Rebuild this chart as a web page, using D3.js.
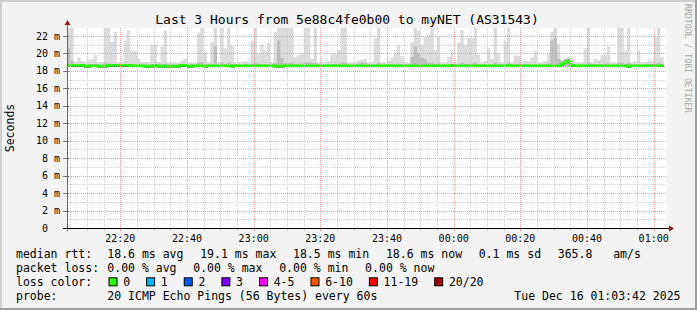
<!DOCTYPE html>
<html>
<head>
<meta charset="utf-8">
<script src="https://cdn.jsdelivr.net/npm/d3@7"></script>
<style>
  html, body { margin: 0; padding: 0; background: #f3f3f3; }
  svg { display: block; }
  text { font-family: "DejaVu Sans Mono", monospace; white-space: pre; }
</style>
</head>
<body>
<script>
const title = 'Last 3 Hours from 5e88c4fe0b00 to myNET (AS31543)'
const startTime = new Date(2025, 11, 15, 22, 4, 0)
const endTime = new Date(2025, 11, 16, 1, 4, 0)
const yMax = 22.92

// one value per 60s step, in ms
const smokeHi = [
  24, 24, 19.05, 19.55, 19.1, 18.95, 19.3, 19.4, 19.85, 18.95,
  18.9, 24, 24, 21.35, 22.5, 18.95, 18.9, 21.5, 22.7, 20.3,
  20.3, 19.4, 18.95, 19.0, 18.9, 21.0, 21.0, 19.0, 20.8, 22.6,
  18.95, 18.9, 18.95, 19.0, 19.2, 19.4, 19.0, 18.9, 18.95, 22.4,
  24, 20.1, 19.0, 21.35, 24, 19.0, 24, 20.6, 24, 20.9,
  18.95, 19.0, 19.0, 19.1, 18.95, 21.5, 24, 20.0, 21.0, 20.3,
  21.2, 18.95, 22.5, 24, 24, 24, 24, 24, 19.6, 19.85,
  19.9, 24, 24, 19.4, 24, 18.9, 18.9, 18.95, 19.1, 20.0,
  20.0, 20.4, 24, 24, 18.9, 18.95, 19.05, 19.2, 19.3, 19.4,
  18.9, 18.95, 21.75, 24, 18.95, 18.9, 19.1, 19.5, 20.1, 21.0,
  19.7, 18.95, 18.9, 21.3, 24, 22.6, 21.0, 21.9, 22.2, 24,
  20.4, 21.9, 18.95, 18.9, 19.6, 20.2, 18.95, 21.3, 22.7, 21.0,
  21.75, 21.75, 24, 19.85, 18.95, 19.15, 20.6, 19.4, 24, 20.0,
  18.95, 21.4, 24, 18.95, 19.8, 19.75, 18.95, 19.1, 19.1, 19.55,
  20.3, 18.95, 18.9, 19.15, 20.0, 22.5, 24, 21.1, 19.0, 19.2,
  19.55, 18.95, 18.9, 18.95, 18.9, 20.6, 24, 19.0, 19.4, 19.25,
  19.85, 19.85, 20.8, 18.95, 18.9, 24, 24, 20.3, 24, 18.95,
  19.15, 20.4, 18.95, 18.9, 19.1, 19.15, 21.85, 24, 19.6
]
const smokeMid = [
  20.6, 19.2, 18.8, 18.8, 18.8, 18.75, 18.8, 18.8, 18.8, 18.75,
  18.75, 18.9, 18.85, 18.8, 18.8, 18.75, 18.75, 18.8, 18.8, 18.8,
  18.8, 18.8, 18.75, 18.75, 18.75, 18.8, 18.8, 18.75, 18.8, 18.8,
  18.75, 18.75, 18.75, 18.75, 18.8, 18.8, 18.75, 18.75, 18.75, 18.9,
  19.0, 18.8, 18.75, 18.8, 20.8, 18.75, 18.9, 18.8, 18.9, 18.8,
  18.75, 18.75, 18.75, 18.8, 18.75, 18.8, 18.9, 18.8, 18.8, 18.8,
  18.8, 18.75, 18.9, 21.5, 19.5, 18.9, 18.9, 18.9, 18.8, 18.85,
  18.85, 19.0, 19.0, 18.9, 18.9, 18.75, 18.75, 18.75, 18.8, 18.8,
  18.8, 18.8, 18.9, 18.9, 18.75, 18.75, 18.8, 18.85, 19.0, 18.9,
  18.75, 18.75, 18.8, 18.9, 18.75, 18.75, 18.8, 18.8, 18.8, 18.85,
  18.8, 18.75, 18.75, 19.6, 20.8, 20.0, 19.5, 19.3, 18.9, 18.9,
  18.8, 18.85, 18.75, 18.75, 18.8, 18.8, 18.75, 18.8, 18.9, 18.8,
  18.8, 18.8, 18.9, 18.8, 18.75, 18.8, 18.8, 18.8, 18.9, 18.8,
  18.75, 18.8, 18.9, 18.75, 18.8, 18.8, 18.75, 18.8, 18.8, 18.8,
  18.8, 18.75, 18.75, 18.8, 18.85, 21.5, 21.8, 19.4, 19.2, 19.4,
  19.5, 18.8, 18.75, 18.75, 18.75, 18.8, 18.9, 18.8, 18.8, 18.8,
  18.8, 18.8, 18.85, 18.75, 18.75, 18.9, 18.9, 18.8, 18.9, 18.75,
  18.8, 18.8, 18.75, 18.75, 18.8, 18.8, 18.85, 18.9, 18.8
]
const median = [
  18.65, 18.65, 18.65, 18.65, 18.65, 18.55, 18.55, 18.6, 18.6, 18.55,
  18.55, 18.55, 18.65, 18.65, 18.65, 18.65, 18.65, 18.65, 18.65, 18.6,
  18.6, 18.6, 18.6, 18.55, 18.55, 18.55, 18.65, 18.55, 18.55, 18.55,
  18.55, 18.55, 18.55, 18.55, 18.65, 18.65, 18.55, 18.55, 18.6, 18.6,
  18.6, 18.55, 18.6, 18.6, 18.6, 18.6, 18.6, 18.6, 18.6, 18.55,
  18.6, 18.6, 18.6, 18.6, 18.6, 18.6, 18.6, 18.6, 18.6, 18.6,
  18.6, 18.6, 18.55, 18.55, 18.55, 18.6, 18.6, 18.6, 18.6, 18.6,
  18.6, 18.6, 18.6, 18.6, 18.6, 18.6, 18.6, 18.6, 18.6, 18.6,
  18.6, 18.6, 18.6, 18.6, 18.6, 18.6, 18.6, 18.6, 18.6, 18.6,
  18.6, 18.6, 18.6, 18.6, 18.6, 18.6, 18.6, 18.6, 18.6, 18.6,
  18.6, 18.6, 18.6, 18.6, 18.6, 18.6, 18.6, 18.6, 18.6, 18.6,
  18.6, 18.6, 18.6, 18.6, 18.6, 18.65, 18.6, 18.6, 18.6, 18.6,
  18.6, 18.6, 18.6, 18.6, 18.6, 18.6, 18.6, 18.6, 18.6, 18.6,
  18.6, 18.6, 18.65, 18.6, 18.6, 18.6, 18.6, 18.6, 18.6, 18.6,
  18.6, 18.6, 18.6, 18.6, 18.6, 18.6, 18.6, 18.6, 18.8, 18.95,
  19.1, 18.65, 18.6, 18.6, 18.6, 18.6, 18.6, 18.6, 18.6, 18.6,
  18.6, 18.6, 18.6, 18.6, 18.6, 18.6, 18.6, 18.6, 18.5, 18.6,
  18.6, 18.6, 18.6, 18.6, 18.6, 18.6, 18.6, 18.6, 18.6
]
const smokeFloor = 18.45

const rttLegend = ['18.6 ms avg', '19.1 ms max', '18.5 ms min', '18.6 ms now', '0.1 ms sd', '365.8   am/s']
const lossLegend = ['0.00 % avg', '0.00 % max', '0.00 % min', '0.00 % now']
const lossLabels = ['0', '1', '2', '3', '4-5', '6-10', '11-19', '20/20']
const lossColors = ['#26ff00', '#00b8ff', '#0059ff', '#7e00ff', '#ff00ff', '#ff5500', '#ff0000', '#a00000']
const probeText = '20 ICMP Echo Pings (56 Bytes) every 60s'
const dateText = 'Tue Dec 16 01:03:42 2025'

const W = 697, H = 310
const pLeft = 67, pRight = 667, pTop = 28, pBottom = 228
const charW = 6.924

const svg = d3.select('body').append('svg')
  .attr('width', W)
  .attr('height', H)

// background + 3d frame
svg.append('rect').attr('width', W).attr('height', H).attr('fill', '#f3f3f3')
svg.append('path').attr('fill', '#cfcfcf')
  .attr('d', `M0,0H${W}V2H2V${H}H0Z`)
svg.append('path').attr('fill', '#9e9e9e')
  .attr('d', `M${W},${H}H0V${H - 2}H${W - 2}V0H${W}Z`)

svg.append('rect')
  .attr('x', pLeft).attr('y', pTop)
  .attr('width', pRight - pLeft).attr('height', pBottom - pTop)
  .attr('fill', '#fff')

let x = d3.scaleTime().domain([startTime, endTime]).range([pLeft, pRight])
let y = d3.scaleLinear().domain([0, yMax]).range([pBottom, pTop])
let t = i => d3.timeMinute.offset(startTime, i)

svg.append('clipPath').attr('id', 'plot')
  .append('rect').attr('x', pLeft).attr('y', pTop)
  .attr('width', pRight - pLeft).attr('height', pBottom - pTop)

let plot = svg.append('g').attr('clip-path', 'url(#plot)')

// smoke, as step areas (last step closed at t(n))
function stepArea(vals, fill) {
  let pts = vals.map((v, i) => [t(i), v])
  pts.push([t(vals.length), vals[vals.length - 1]])
  let area = d3.area()
    .curve(d3.curveStepAfter)
    .x(d => x(d[0]))
    .y0(y(smokeFloor))
    .y1(d => y(d[1]))
  plot.append('path').attr('d', area(pts)).attr('fill', fill)
}
stepArea(smokeHi, '#dcdcdc')
stepArea(smokeMid, '#bdbdbd')

// grid
let minorT = d3.timeMinute.every(5).range(startTime, endTime)
let majorT = d3.timeMinute.every(20).range(startTime, endTime)
let majorSet = new Set(majorT.map(d => +d))
let grid = svg.append('g').attr('fill', 'none').attr('stroke-dasharray', '1,1')

grid.selectAll('line.vmin').data(minorT.filter(d => !majorSet.has(+d))).join('line')
  .attr('x1', d => Math.round(x(d)) + 0.5).attr('x2', d => Math.round(x(d)) + 0.5)
  .attr('y1', pTop).attr('y2', pBottom)
  .attr('stroke', '#cccccc')
grid.selectAll('line.hmin').data(d3.range(1, 23, 2)).join('line')
  .attr('x1', pLeft).attr('x2', pRight)
  .attr('y1', d => Math.round(y(d)) + 0.5).attr('y2', d => Math.round(y(d)) + 0.5)
  .attr('stroke', '#cccccc')
grid.selectAll('line.vmaj').data(majorT).join('line')
  .attr('x1', d => Math.round(x(d)) + 0.5).attr('x2', d => Math.round(x(d)) + 0.5)
  .attr('y1', pTop).attr('y2', pBottom)
  .attr('stroke', '#f59a9a')
grid.selectAll('line.hmaj').data(d3.range(2, 23, 2)).join('line')
  .attr('x1', pLeft).attr('x2', pRight)
  .attr('y1', d => Math.round(y(d)) + 0.5).attr('y2', d => Math.round(y(d)) + 0.5)
  .attr('stroke', '#f59a9a')

// median rtt, coloured by loss (all 0 here)
let medPts = median.map((v, i) => [t(i), v])
medPts.push([t(median.length), median[median.length - 1]])
let medLine = d3.line()
  .curve(d3.curveStepAfter)
  .x(d => x(d[0]))
  .y(d => y(d[1]))
plot.append('path').attr('d', medLine(medPts))
  .attr('fill', 'none').attr('stroke', '#202020').attr('stroke-width', 1)
  .attr('transform', 'translate(0.6,0.9)')
plot.append('path').attr('d', medLine(medPts))
  .attr('fill', 'none').attr('stroke', lossColors[0]).attr('stroke-width', 2.6)

// axes
let ax = svg.append('g')
ax.selectAll('line.ytick').data(d3.range(0, 23, 2)).join('line')
  .attr('x1', pLeft - 4).attr('x2', pLeft + 2)
  .attr('y1', d => Math.round(y(d)) + 0.5).attr('y2', d => Math.round(y(d)) + 0.5)
  .attr('stroke', '#777')
ax.selectAll('line.xtick').data(minorT).join('line')
  .attr('x1', d => Math.round(x(d)) + 0.5).attr('x2', d => Math.round(x(d)) + 0.5)
  .attr('y1', pBottom).attr('y2', pBottom + 3)
  .attr('stroke', d => majorSet.has(+d) ? '#f59a9a' : '#cccccc')
ax.append('line')
  .attr('x1', pLeft + 0.5).attr('x2', pLeft + 0.5)
  .attr('y1', pBottom + 3).attr('y2', pTop - 4)
  .attr('stroke', '#666')
ax.append('path').attr('fill', '#8b1a1a')
  .attr('d', `M${pLeft - 2.5},${pTop - 3}L${pLeft + 3.5},${pTop - 3}L${pLeft + 0.5},${pTop - 8}Z`)
ax.append('line')
  .attr('x1', pLeft - 4).attr('x2', pRight + 2)
  .attr('y1', pBottom + 0.5).attr('y2', pBottom + 0.5)
  .attr('stroke', '#000')
ax.append('path').attr('fill', '#8b1a1a')
  .attr('d', `M${pRight + 2},${pBottom - 2.5}L${pRight + 2},${pBottom + 3.5}L${pRight + 7},${pBottom + 0.5}Z`)

ax.selectAll('text.ylab').data(d3.range(0, 23, 2)).join('text')
  .attr('x', 60).attr('y', d => y(d)).attr('dy', '0.35em')
  .attr('text-anchor', 'end').attr('font-size', 10).attr('fill', '#000')
  .text(d => d ? d + ' m' : '0  ')
ax.selectAll('text.xlab').data(majorT).join('text')
  .attr('x', d => x(d)).attr('y', 241.5)
  .attr('text-anchor', 'middle').attr('font-size', 10).attr('fill', '#000')
  .text(d3.timeFormat('%H:%M'))

// titles
svg.append('text').attr('x', 347).attr('y', 23.5)
  .attr('text-anchor', 'middle').attr('font-size', 13).text(title)
svg.append('text').attr('transform', `translate(14,128) rotate(-90)`)
  .attr('text-anchor', 'middle').attr('font-size', 11.5).text('Seconds')
svg.append('text').attr('transform', `translate(685,4) rotate(90)`)
  .attr('font-size', 8.2).attr('fill', '#a8a8a8').text('RRDTOOL / TOBI OETIKER')

// legend
let rows = [258.3, 272.3, 286.3, 300]
let lg = svg.append('g').attr('font-size', 11.5).attr('fill', '#000')
function flow(items, yy) {
  let xx = 107.3
  items.forEach(s => {
    lg.append('text').attr('x', xx).attr('y', yy).text(s)
    xx += s.length * charW + 16.7
  })
}
lg.append('text').attr('x', 16).attr('y', rows[0]).text('median rtt:')
flow(rttLegend, rows[0])
lg.append('text').attr('x', 16).attr('y', rows[1]).text('packet loss:')
flow(lossLegend, rows[1])
lg.append('text').attr('x', 16).attr('y', rows[2]).text('loss color:')
let bx = 108.5
lossLabels.forEach((s, i) => {
  lg.append('rect').attr('x', bx + 0.5).attr('y', rows[2] - 8.5)
    .attr('width', 8).attr('height', 8)
    .attr('fill', lossColors[i]).attr('stroke', '#000')
  lg.append('text').attr('x', bx + 14.7).attr('y', rows[2]).text(s)
  bx += 14.7 + s.length * charW + 16
})
lg.append('text').attr('x', 16).attr('y', rows[3]).text('probe:')
lg.append('text').attr('x', 107.3).attr('y', rows[3]).text(probeText)
lg.append('text').attr('x', 680.5).attr('y', rows[3]).attr('text-anchor', 'end').text(dateText)
</script>
</body>
</html>
